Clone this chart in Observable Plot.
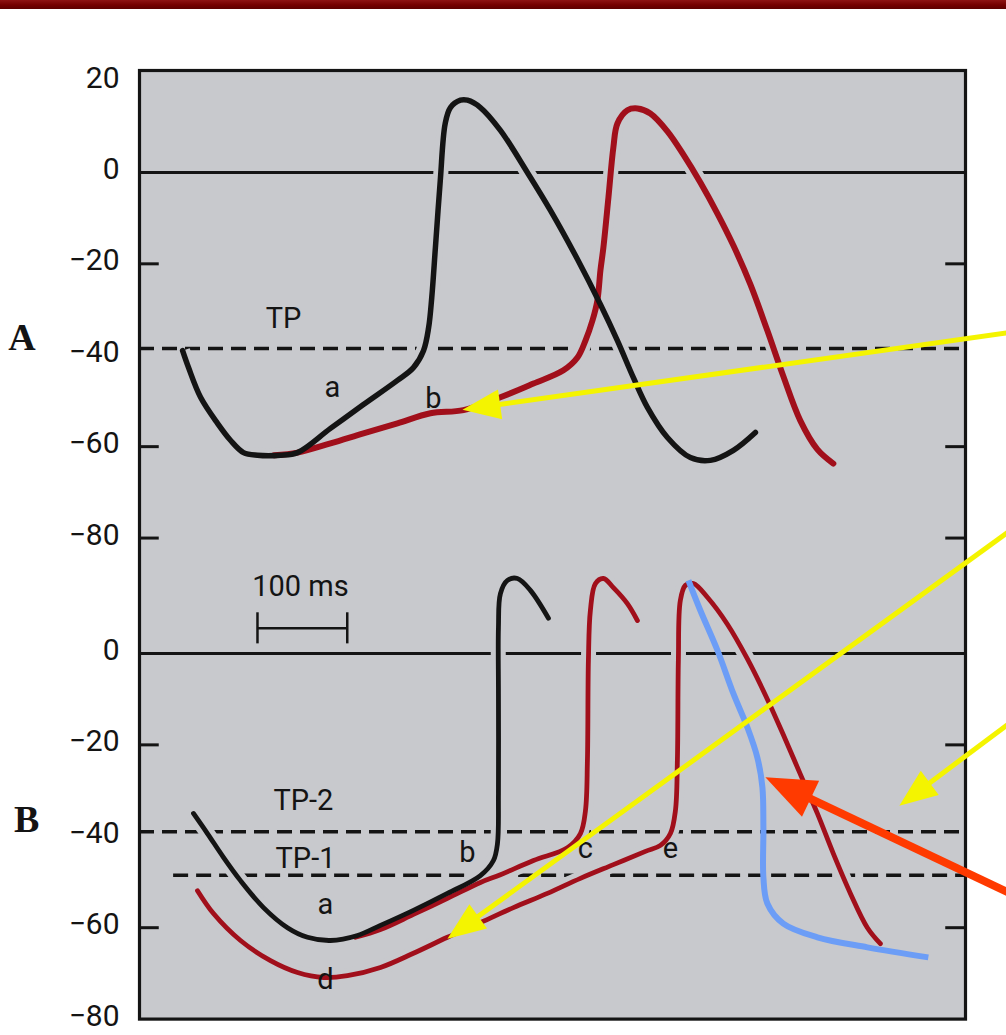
<!DOCTYPE html>
<html>
<head>
<meta charset="utf-8">
<script src="https://cdn.jsdelivr.net/npm/d3@7"></script>
<script src="https://cdn.jsdelivr.net/npm/@observablehq/plot@0.6"></script>
<style>
  body { margin: 0; background: #ffffff; }
  #wrap { position: relative; width: 1006px; height: 1035px; overflow: hidden; }
  #bar { position: absolute; left: 0; top: 0; width: 1006px; height: 9px;
         background: linear-gradient(180deg, #8e1414 0%, #740000 55%, #5c0000 100%); }
  svg { display: block; }
</style>
</head>
<body>
<div id="wrap"><div id="bar"></div></div>
<script>
// ---------- data (time in ms, membrane potential in mV) ----------
// Panel A
const blackA = [[48,-39],[54.6,-42.7],[68,-49.2],[86.9,-54.9],[101.3,-58.6],[115.8,-61.3],[131.4,-61.9],[157,-61.9],[176,-61.3],[212.7,-56],[249.4,-50.8],[287.3,-45.5],[305.1,-42.7],[316.3,-39],[322,-34],[325.5,-27.4],[329.6,-16.4],[335,-1.8],[340.5,10.7],[346.3,14.2],[357.5,15.8],[365.3,15.8],[379.7,14.2],[402,9.2],[432,0],[457.7,-8.3],[487.8,-19],[513.4,-28.9],[532.3,-36.8],[550.1,-44.9],[565.7,-51.4],[588,-58],[613.6,-62.4],[635.9,-63],[661.5,-60.8],[686,-56.9]];
const redA = [[150,-61.9],[176,-61.3],[212.7,-59.3],[249.4,-57.1],[287.3,-54.9],[324,-52.7],[360.8,-52],[402,-49.2],[438.8,-46.2],[472.2,-43.3],[487.8,-40.5],[496.7,-36.8],[504.5,-32.4],[510,-28],[513.4,-21.4],[516.7,-16.4],[522.3,-5.5],[527.8,5.5],[532.3,10.7],[543.4,13.6],[554.6,14],[569,12.9],[588,9],[605.8,3.9],[624.7,-2.2],[643.7,-9],[661.5,-16],[680.4,-24.5],[699.3,-34.6],[717.1,-44.6],[736,-54.3],[755,-60.6],[772.8,-63.7]];
// Panel B
const blackB = [[60.1,-35],[75.7,-39.4],[93.5,-44.6],[112.5,-49.7],[138.1,-55.6],[164.8,-60],[187.1,-62.1],[212.7,-62.8],[242.8,-61.7],[268.4,-59.5],[305.1,-56.2],[343,-52.5],[379.7,-48.6],[394.2,-45.3],[398.7,-41.6],[399.8,-30.6],[399.8,-8.8],[399.8,5.7],[402,13.1],[409.8,16],[420.9,16.4],[435.4,13.8],[455.5,7.7]];
const redBc = [[240.5,-62.1],[268.4,-60.4],[305.1,-57.1],[343,-53.6],[379.7,-50.1],[402,-48.4],[438.8,-45.3],[476.6,-42.5],[491.1,-39.4],[496.7,-34.4],[498.9,-23.4],[500,-1.5],[502.2,9.4],[507.8,15.3],[516.7,16.4],[527.8,14.4],[543.4,10.9],[554.6,7.2]];
const redBe = [[64.6,-51.9],[82.4,-56.9],[112.5,-62.8],[145.9,-67.2],[176,-69.8],[204.9,-70.9],[231.6,-70.5],[268.4,-68.7],[305.1,-65.6],[343,-62.1],[379.7,-58.9],[416.5,-55.6],[454.3,-52.5],[491.1,-49.2],[527.8,-46.2],[563.5,-43.3],[580.2,-42],[591.3,-39.4],[596.9,-34.4],[599.1,-23.4],[600.2,-1.5],[602.4,11.6],[608,14.9],[616.9,15.3],[632.5,12.3],[654.8,6.4],[677.1,-1.2],[699.3,-10],[717.1,-17.8],[736,-26.4],[755,-35],[772.8,-43.8],[791.8,-52.5],[810.7,-60],[825.2,-63.5]];
const blueB = [[611.4,16],[624.7,9.4],[643.7,0.7],[661.5,-8.8],[677.1,-16.2],[688.2,-22.8],[693.8,-29.3],[694.9,-38.1],[694.9,-49],[699.3,-54.7],[717.1,-59.1],[755,-62.1],[810.7,-64.3],[878.6,-66.5]];

// axis tick labels (mV) per panel
const ticksA = [20, 0, -20, -40, -60, -80];
const ticksB = [0, -20, -40, -60, -80];
const innerTicksA = [-20, -60, -80];
const innerTicksB = [-20, -60];

// threshold potentials
const thresholdNames = ["TP", "TP-2", "TP-1"];
const thresholdPanels = ["A", "B", "B"];
const thresholdValues = [-38.5, -39, -48.5];
const thresholdStart = [0, 0, 38];

// curve labels
const labelTexts  = ["TP", "a", "b", "100 ms", "TP-2", "TP-1", "b", "a", "d", "c", "e"];
const labelPanels = ["A", "A", "A", "B", "B", "B", "B", "B", "B", "B", "B"];
const labelT      = [160.4, 214.9, 327.4, 179.3, 182.6, 184.9, 365.3, 207.1, 207.1, 496.7, 591.3];
const labelV      = [-32.1, -47.2, -49.6, 14.7, -32.3, -44.8, -43.7, -54.9, -71.3, -42.8, -42.8];

// 100 ms scale bar
const scaleBarStart = 131.4, scaleBarLength = 100, scaleBarV = 5.5;

// annotation arrows: [panel, tailT, tailV, tipT, tipV, colour]
const arrows = [
  ["A", 970, -35.0, 359.7, -51.9, "yellow"],
  ["B", 970, 26.9, 343, -62.4, "yellow"],
  ["B", 970, -15.1, 846.3, -33.3, "yellow"],
  ["B", 970, -52.5, 697.1, -27.1, "red"]
];

// ---------- layout ----------
const W = 1006, H = 1035, ML = 139, MR = 41, MT = 70, MB = 16.4;
const XD = [0, 920], YD = [-185.25, 22.3];
const B_OFFSET = 105.25; // panel B drawn below panel A on one shared axis
const BG = "#c8c9cd", INK = "#141414", RED = "#a10f1b", BLUE = "#6c9df6";
const YELLOW = "#f4f400", ORANGE = "#ff3a00";

const uy = (panel, v) => panel === "B" ? v - B_OFFSET : v;
const rows = (arr, panel) => arr.map(([t, v]) => ({t, y: uy(panel, v)}));

const curvesA = [{d: rows(redA, "A"), c: RED, w: 6}, {d: rows(blackA, "A"), c: INK, w: 5.5}];
const curvesB = [{d: rows(redBe, "B"), c: RED, w: 4.8}, {d: rows(redBc, "B"), c: RED, w: 4.8}, {d: rows(blackB, "B"), c: INK, w: 4.8}];
const curves = [...curvesA, ...curvesB];

const fmt = v => v < 0 ? "\u2212" + (-v) : String(v);
const tickRows = [
  ...ticksA.map(v => ({y: uy("A", v), label: fmt(v)})),
  ...ticksB.map(v => ({y: uy("B", v), label: fmt(v)}))
];
const innerRows = [...innerTicksA.map(v => uy("A", v)), ...innerTicksB.map(v => uy("B", v))];
const thresholdRows = thresholdNames.map((n, i) => ({name: n, y: uy(thresholdPanels[i], thresholdValues[i]), x1: thresholdStart[i]}));
const labelRows = labelTexts.map((s, i) => ({text: s, t: labelT[i], y: uy(labelPanels[i], labelV[i])}));

// arrow geometry (filled triangular heads) computed in pixel space from scale factors
const kx = (W - ML - MR) / (XD[1] - XD[0]);
const ky = (H - MT - MB) / (YD[1] - YD[0]);
const shafts = [], heads = [];
arrows.forEach(([panel, t1, v1, t2, v2, col], i) => {
  const y1 = uy(panel, v1), y2 = uy(panel, v2);
  const dx = (t2 - t1) * kx, dy = -(y2 - y1) * ky;
  const len = Math.hypot(dx, dy), ux = dx / len, uyy = dy / len;
  const L = col === "red" ? 50 : 38, Wd = col === "red" ? 40 : 30;
  const bx = -ux * L, by = -uyy * L, px = -uyy, py = ux;
  const toData = (ox, oy) => ({t: t2 + ox / kx, y: y2 - oy / ky});
  const end = toData(bx * 0.7, by * 0.7);
  shafts.push({t1, y1, t2: end.t, y2: end.y, col});
  const c1 = toData(bx + px * Wd / 2, by + py * Wd / 2);
  const c2 = toData(bx - px * Wd / 2, by - py * Wd / 2);
  [{t: t2, y: y2}, c1, c2, {t: t2, y: y2}].forEach(p => heads.push({...p, id: i, col}));
});

const panelLetters = [{text: "A", t: -131, y: uy("A", -36.1)}, {text: "B", t: -125.8, y: uy("B", -36.3)}];

const marks = [
  Plot.frame({fill: BG, stroke: null}),
  // zero lines
  Plot.ruleY([uy("A", 0), uy("B", 0)], {stroke: INK, strokeWidth: 3}),
  // threshold potentials (dashed)
  Plot.ruleY(thresholdRows, {y: "y", x1: "x1", x2: XD[1], stroke: INK, strokeWidth: 3.5, strokeDasharray: "15,8"}),
  // inner ticks on both sides
  Plot.ruleY(innerRows, {x1: XD[0], x2: XD[0] + 22, stroke: INK, strokeWidth: 3}),
  Plot.ruleY(innerRows, {x1: XD[1] - 22, x2: XD[1], stroke: INK, strokeWidth: 3}),
  // scale bar
  Plot.ruleY([uy("B", scaleBarV)], {x1: scaleBarStart, x2: scaleBarStart + scaleBarLength, stroke: INK, strokeWidth: 2.5}),
  Plot.ruleX([scaleBarStart, scaleBarStart + scaleBarLength], {y1: uy("B", scaleBarV - 3.4), y2: uy("B", scaleBarV + 3.4), stroke: INK, strokeWidth: 2.5}),
  // halos under the traces (break the reference lines where traces cross)
  ...curves.map(c => Plot.line(c.d, {x: "t", y: "y", stroke: BG, strokeWidth: 15, curve: "catmull-rom", strokeLinecap: "butt"})),
  // traces
  ...curves.map(c => Plot.line(c.d, {x: "t", y: "y", stroke: c.c, strokeWidth: c.w, curve: "catmull-rom", strokeLinecap: "round", strokeLinejoin: "round"})),
  // labels
  Plot.text(labelRows, {x: "t", y: "y", text: "text", fontSize: 29, fontFamily: "Roboto, sans-serif", fill: INK}),
  // hand-drawn blue trace
  Plot.line(rows(blueB, "B"), {x: "t", y: "y", stroke: BLUE, strokeWidth: 6, curve: "catmull-rom", strokeLinecap: "butt"}),
  // frame
  Plot.frame({stroke: INK, strokeWidth: 3.2, fill: null}),
  // annotation arrows
  Plot.link(shafts.filter(s => s.col === "yellow"), {x1: "t1", y1: "y1", x2: "t2", y2: "y2", stroke: YELLOW, strokeWidth: 5}),
  Plot.link(shafts.filter(s => s.col === "red"), {x1: "t1", y1: "y1", x2: "t2", y2: "y2", stroke: ORANGE, strokeWidth: 8}),
  Plot.line(heads.filter(h => h.col === "yellow"), {x: "t", y: "y", z: "id", fill: YELLOW, stroke: null}),
  Plot.line(heads.filter(h => h.col === "red"), {x: "t", y: "y", z: "id", fill: ORANGE, stroke: null}),
  // y axis labels
  Plot.axisY({ticks: tickRows.map(d => d.y), tickFormat: d => (tickRows.find(r => Math.abs(r.y - d) < 1e-6) || {}).label, tickSize: 0, tickPadding: 20, fontSize: 30, dy: -3}),
  // panel letters
  Plot.text(panelLetters, {x: "t", y: "y", text: "text", fontSize: 38, fontWeight: "bold", fontFamily: "'Liberation Serif', 'DejaVu Serif', serif", fill: INK})
];

const plot = Plot.plot({
  width: W, height: H,
  marginLeft: ML, marginRight: MR, marginTop: MT, marginBottom: MB,
  x: {domain: XD, axis: null},
  y: {domain: YD},
  style: {background: "transparent", fontFamily: "Roboto, sans-serif", fontSize: "31px", color: INK, overflow: "visible"},
  marks
});
document.getElementById("wrap").prepend(plot);
</script>
</body>
</html>
